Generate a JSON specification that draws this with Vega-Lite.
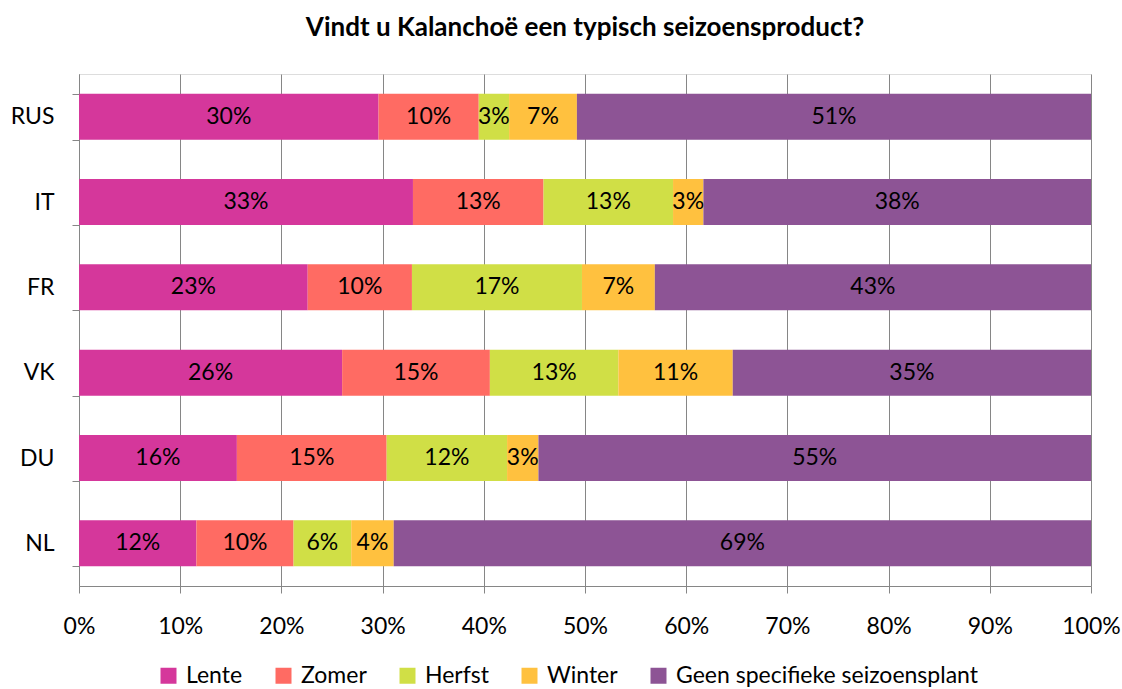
{
  "$schema": "https://vega.github.io/schema/vega-lite/v6.json",
  "autosize": "none",
  "width": 1012,
  "height": 512,
  "padding": {"left": 79, "top": 74, "right": 31, "bottom": 103},
  "background": "white",
  "title": {
    "text": "Vindt u Kalanchoë een typisch seizoensproduct?",
    "font": "Lato",
    "fontSize": 26,
    "fontWeight": "bold",
    "color": "black",
    "anchor": "middle",
    "offset": 22
  },
  "data": {
    "values": [
      {"land": "RUS", "categorie": "Lente", "rang": 1, "aandeel": 0.296},
      {"land": "RUS", "categorie": "Zomer", "rang": 2, "aandeel": 0.099},
      {"land": "RUS", "categorie": "Herfst", "rang": 3, "aandeel": 0.030},
      {"land": "RUS", "categorie": "Winter", "rang": 4, "aandeel": 0.067},
      {"land": "RUS", "categorie": "Geen specifieke seizoensplant", "rang": 5, "aandeel": 0.508},
      {"land": "IT", "categorie": "Lente", "rang": 1, "aandeel": 0.330},
      {"land": "IT", "categorie": "Zomer", "rang": 2, "aandeel": 0.129},
      {"land": "IT", "categorie": "Herfst", "rang": 3, "aandeel": 0.128},
      {"land": "IT", "categorie": "Winter", "rang": 4, "aandeel": 0.030},
      {"land": "IT", "categorie": "Geen specifieke seizoensplant", "rang": 5, "aandeel": 0.383},
      {"land": "FR", "categorie": "Lente", "rang": 1, "aandeel": 0.226},
      {"land": "FR", "categorie": "Zomer", "rang": 2, "aandeel": 0.103},
      {"land": "FR", "categorie": "Herfst", "rang": 3, "aandeel": 0.168},
      {"land": "FR", "categorie": "Winter", "rang": 4, "aandeel": 0.072},
      {"land": "FR", "categorie": "Geen specifieke seizoensplant", "rang": 5, "aandeel": 0.431},
      {"land": "VK", "categorie": "Lente", "rang": 1, "aandeel": 0.260},
      {"land": "VK", "categorie": "Zomer", "rang": 2, "aandeel": 0.146},
      {"land": "VK", "categorie": "Herfst", "rang": 3, "aandeel": 0.127},
      {"land": "VK", "categorie": "Winter", "rang": 4, "aandeel": 0.113},
      {"land": "VK", "categorie": "Geen specifieke seizoensplant", "rang": 5, "aandeel": 0.354},
      {"land": "DU", "categorie": "Lente", "rang": 1, "aandeel": 0.156},
      {"land": "DU", "categorie": "Zomer", "rang": 2, "aandeel": 0.148},
      {"land": "DU", "categorie": "Herfst", "rang": 3, "aandeel": 0.119},
      {"land": "DU", "categorie": "Winter", "rang": 4, "aandeel": 0.031},
      {"land": "DU", "categorie": "Geen specifieke seizoensplant", "rang": 5, "aandeel": 0.546},
      {"land": "NL", "categorie": "Lente", "rang": 1, "aandeel": 0.116},
      {"land": "NL", "categorie": "Zomer", "rang": 2, "aandeel": 0.096},
      {"land": "NL", "categorie": "Herfst", "rang": 3, "aandeel": 0.057},
      {"land": "NL", "categorie": "Winter", "rang": 4, "aandeel": 0.042},
      {"land": "NL", "categorie": "Geen specifieke seizoensplant", "rang": 5, "aandeel": 0.689}
    ]
  },
  "encoding": {
    "y": {
      "field": "land",
      "type": "nominal",
      "sort": ["RUS", "IT", "FR", "VK", "DU", "NL"],
      "scale": {"paddingInner": 0.46, "paddingOuter": 0.23},
      "axis": {
        "title": null,
        "tickBand": "extent",
        "tickSize": 7,
        "tickColor": "#868686",
        "domainColor": "#868686",
        "labelFont": "Lato",
        "labelFontSize": 23,
        "labelColor": "black",
        "labelPadding": 18,
        "grid": false
      }
    },
    "x": {
      "field": "aandeel",
      "type": "quantitative",
      "stack": "normalize",
      "scale": {"domain": [0, 1], "nice": false},
      "axis": {
        "title": null,
        "format": ".0%",
        "values": [0, 0.1, 0.2, 0.3, 0.4, 0.5, 0.6, 0.7, 0.8, 0.9, 1],
        "grid": true,
        "gridColor": "#868686",
        "gridWidth": 1,
        "tickSize": 7,
        "tickColor": "#868686",
        "domainColor": "#868686",
        "labelFont": "Lato",
        "labelFontSize": 23,
        "labelColor": "black",
        "labelPadding": 22,
        "labelFlush": false
      }
    },
    "order": {"field": "rang", "type": "quantitative", "sort": "ascending"}
  },
  "layer": [
    {
      "mark": {"type": "bar"},
      "encoding": {
        "color": {
          "field": "categorie",
          "type": "nominal",
          "sort": ["Lente", "Zomer", "Herfst", "Winter", "Geen specifieke seizoensplant"],
          "scale": {
            "domain": ["Lente", "Zomer", "Herfst", "Winter", "Geen specifieke seizoensplant"],
            "range": ["#D5379B", "#FF6B63", "#D0DF46", "#FFC13F", "#8D5495"]
          },
          "legend": {
            "title": null,
            "orient": "none",
            "direction": "horizontal",
            "legendX": 78,
            "legendY": 590,
            "symbolType": "square",
            "symbolSize": 256,
            "symbolStrokeWidth": 0,
            "symbolOpacity": 1,
            "labelFont": "Lato",
            "labelFontSize": 23,
            "labelColor": "black",
            "labelLimit": 0,
            "labelOffset": 6,
            "columnPadding": 29
          }
        }
      }
    },
    {
      "mark": {"type": "text", "font": "Lato", "fontSize": 23, "color": "black", "baseline": "middle", "align": "center"},
      "encoding": {
        "x": {"field": "aandeel", "type": "quantitative", "stack": "normalize", "bandPosition": 0.5},
        "detail": {"field": "categorie", "type": "nominal"},
        "text": {"field": "aandeel", "type": "quantitative", "format": ".0%"}
      }
    }
  ]
}
